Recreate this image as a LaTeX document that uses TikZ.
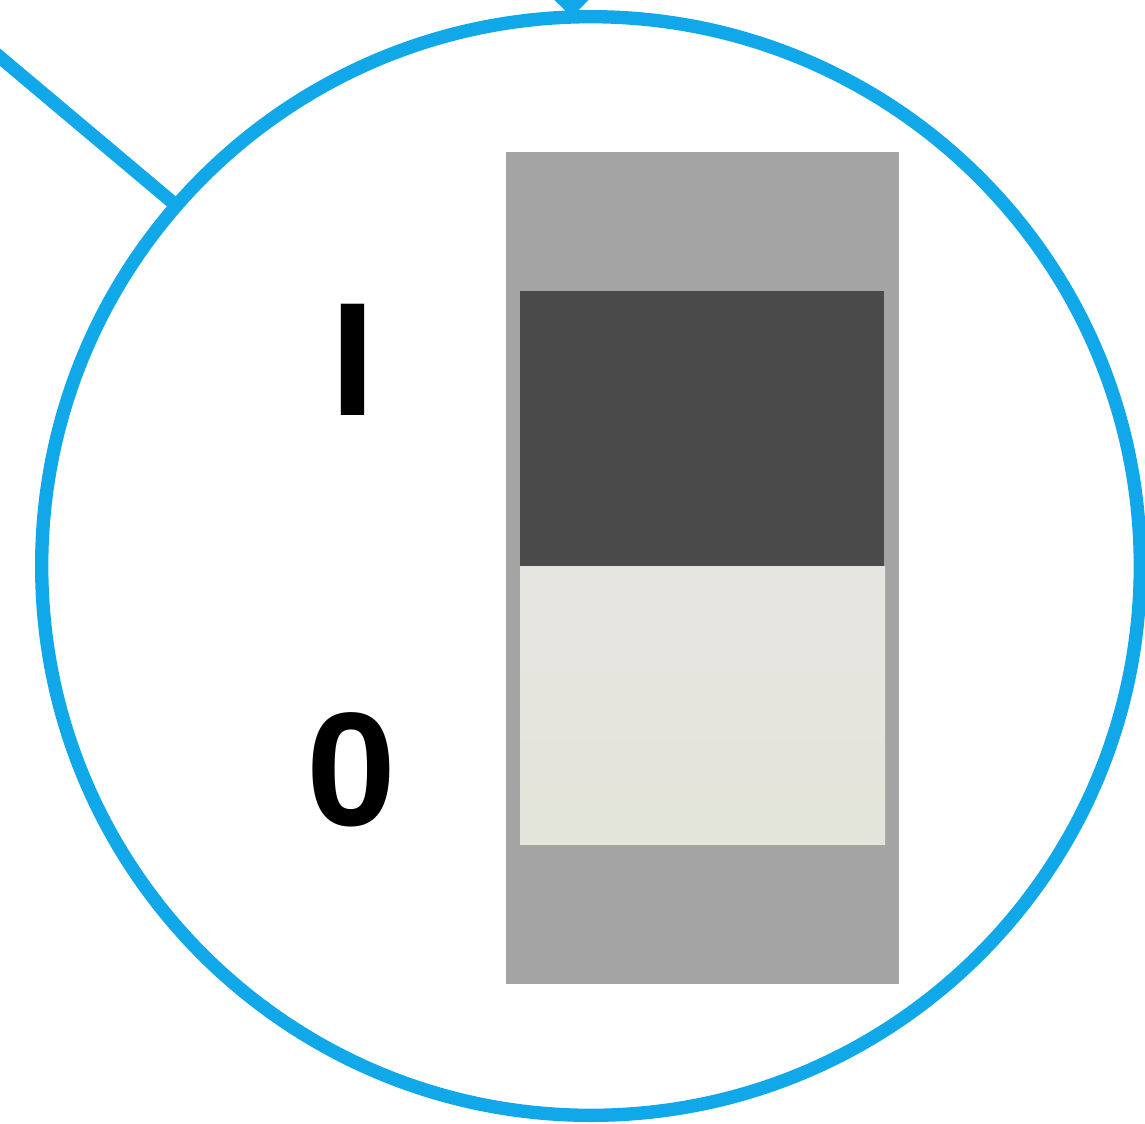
\documentclass[tikz,border=0pt]{standalone}
\usepackage{fontspec}
\usepackage{tikz}
\usetikzlibrary{arrows.meta}
\usetikzlibrary{positioning}
\newfontfamily\switchfont{Liberation Sans}
\definecolor{lensblue}{HTML}{10A8E8}
\definecolor{housing}{HTML}{A4A4A4}
\definecolor{rockerdark}{HTML}{4A4A4A}
\definecolor{rockertop}{HTML}{E7E5E1}
\definecolor{rockerbottom}{HTML}{E3E4DA}
\tikzset{lens/.style={draw=lensblue,
                      circle,
                      line width=3.8pt,
                      inner sep=0pt,
                      outer sep=0pt,
                      minimum size=10.98cm}}
\tikzset{pointer/.style={draw=lensblue,
                         line width=3.8pt}}
\tikzset{mark label/.style={font=\switchfont\bfseries\fontsize{46}{55}\selectfont,
                            inner sep=0pt}}

\begin{document}
\begin{tikzpicture}
    [
      x=0.01cm, y=-0.01cm,
    ]
    \useasboundingbox (0,0) rectangle (1145,1123);

    % magnifier circle
    \node [lens] (zoom) at (591,566) {};

    % leader line and arrow into the circle
    \coordinate (leader) at (-30,32);
    \coordinate (feed) at (570,-120);
    \draw [pointer] (leader) -- (zoom.139);
    \draw [pointer,-{Triangle[width=0.7cm,length=0.36cm]}] (feed) -- (zoom.92);

    % switch housing
    \fill [housing] (506,152) rectangle (899,984);

    % rocker
    \fill [rockerdark] (520,291) rectangle (884,566);
    \shade [top color=rockertop,bottom color=rockerbottom] (520,566) rectangle (885,844);

    % on / off marks
    \node [mark label] (on) at (352.5,359.5) {I};
    \node [mark label] (off) at (351.5,770) {0};

  \end{tikzpicture}
\end{document}
